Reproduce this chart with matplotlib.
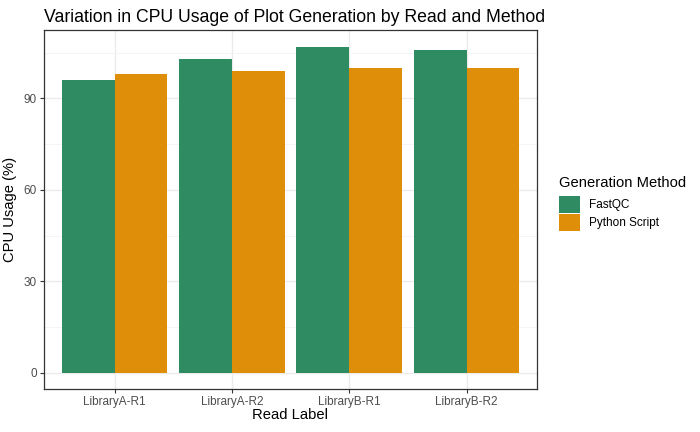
import numpy as np
import matplotlib.pyplot as plt
from matplotlib.patches import Patch

reads = ["LibraryA-R1", "LibraryA-R2", "LibraryB-R1", "LibraryB-R2"]
methods = ["FastQC", "Python Script"]
fastqc_cpu = [96, 103, 107, 106]
python_cpu = [98, 99, 100, 100]
colors = ["#2E8B62", "#DF8E0A"]

plt.rcParams['font.family'] = ['Liberation Sans', 'DejaVu Sans']

fig = plt.figure(figsize=(7, 4.32), dpi=100)
ax = fig.add_axes([0.063, 0.099, 0.704, 0.831])

x = np.arange(1, len(reads) + 1)
w = 0.45
ax.bar(x - w / 2, fastqc_cpu, width=w, color=colors[0], zorder=2)
ax.bar(x + w / 2, python_cpu, width=w, color=colors[1], zorder=2)

ymax = max(max(fastqc_cpu), max(python_cpu))
ax.set_xlim(0.4, 4.6)
ax.set_ylim(-0.05 * ymax, 1.05 * ymax)
ax.set_xticks(x)
ax.set_xticklabels(reads)
ax.set_yticks([0, 30, 60, 90])
ax.set_yticks([15, 45, 75, 105], minor=True)

ax.grid(True, which='major', color='#EBEBEB', linewidth=1.0, zorder=0)
ax.grid(True, which='minor', axis='y', color='#F3F3F3', linewidth=0.6, zorder=0)
ax.set_axisbelow(True)
for s in ax.spines.values():
    s.set_color('#333333')
    s.set_linewidth(0.9)
ax.tick_params(which='major', length=3.2, width=0.8, color='#333333',
               labelcolor='#4D4D4D', labelsize=8.45, pad=2)
ax.tick_params(which='minor', length=0)

ax.set_xlabel("Read Label", fontsize=10.6, labelpad=0)
ax.set_ylabel("CPU Usage (%)", fontsize=10.6, labelpad=4.5)
ax.set_title("Variation in CPU Usage of Plot Generation by Read and Method",
             fontsize=12.7, loc='left', pad=6)

handles = [Patch(facecolor=c, edgecolor='none') for c in colors]
leg = fig.legend(handles, methods, title="Generation Method",
                 loc='upper left', bbox_to_anchor=(559 / 700, 1 - 176 / 432),
                 frameon=False, fontsize=8.45, title_fontsize=10.6,
                 handlelength=1.79, handleheight=1.79, handletextpad=0.75,
                 labelspacing=0.14, borderaxespad=0, borderpad=0)
leg._legend_box.align = "left"
leg._legend_box.sep = 4.5

fig.savefig("out.png", dpi=100)
